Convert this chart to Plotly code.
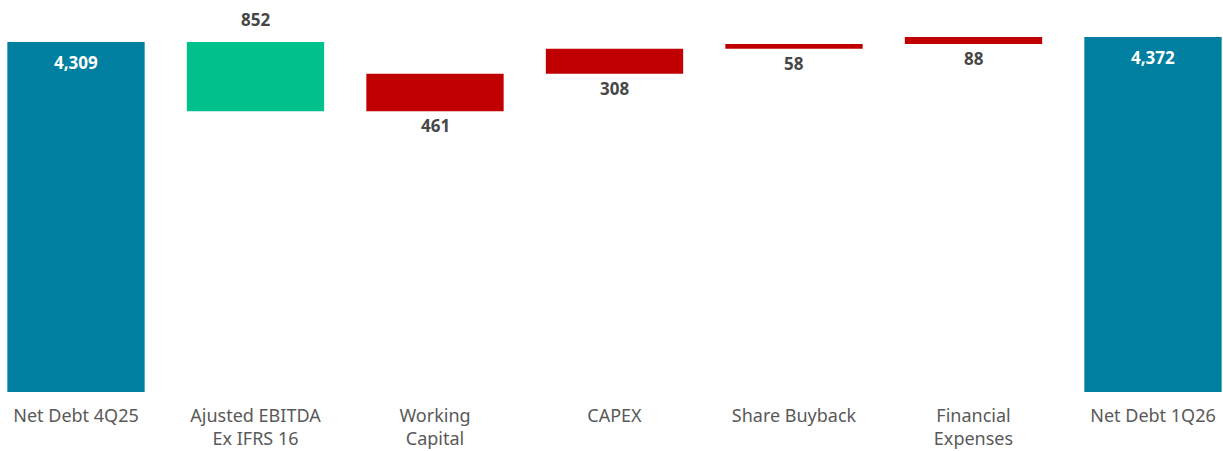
import plotly.graph_objects as go

categories = ["Net Debt 4Q25", "Ajusted EBITDA<br>Ex IFRS 16", "Working<br>Capital", "CAPEX",
              "Share Buyback", "Financial<br>Expenses", "Net Debt 1Q26"]
measures = ["absolute", "relative", "relative", "relative", "relative", "relative", "total"]
values = [4309, -852, 461, 308, 58, 88, 4372]
labels = ["4,309", "852", "461", "308", "58", "88", "4,372"]

TEAL = "#007FA0"
GREEN = "#00C08B"
RED = "#C00000"
FONT = "Noto Sans"

xs = list(range(len(categories)))

fig = go.Figure(go.Waterfall(
    x=xs,
    y=[v if m != "total" else 0 for v, m in zip(values, measures)],
    measure=measures,
    increasing=dict(marker=dict(color=RED)),
    decreasing=dict(marker=dict(color=GREEN)),
    totals=dict(marker=dict(color=TEAL)),
    connector=dict(visible=False),
    textposition="none",
    hoverinfo="skip",
))

annotations = []
running = 0
for i, (m, v, lab) in enumerate(zip(measures, values, labels)):
    if m == "absolute":
        running = v
        annotations.append(dict(x=i, y=running, text=f"<b>{lab}</b>", yanchor="top", yshift=-7,
                                font=dict(color="white", size=17, family=FONT)))
    elif m == "total":
        annotations.append(dict(x=i, y=running, text=f"<b>{lab}</b>", yanchor="top", yshift=-7,
                                font=dict(color="white", size=17, family=FONT)))
    else:
        start = running
        running += v
        if v < 0:
            annotations.append(dict(x=i, y=start, text=f"<b>{lab}</b>", yanchor="bottom", yshift=9,
                                    font=dict(color="#474747", size=17, family=FONT)))
        else:
            annotations.append(dict(x=i, y=start, text=f"<b>{lab}</b>", yanchor="top", yshift=-1,
                                    font=dict(color="#474747", size=17, family=FONT)))
for a in annotations:
    a.update(showarrow=False, xref="x", yref="y")

fig.update_layout(
    width=1223, height=451,
    margin=dict(l=0, r=0, t=0, b=59),
    paper_bgcolor="white", plot_bgcolor="white",
    waterfallgap=0.235,
    showlegend=False,
    annotations=annotations,
    xaxis=dict(range=[-0.4234, 6.39], tickmode="array", tickvals=xs, ticktext=categories,
               showgrid=False, zeroline=False, showline=False, ticks="",
               tickfont=dict(family=FONT, size=18, color="#595959"), ticklabelstandoff=11),
    yaxis=dict(range=[0, 4826], visible=False, showgrid=False, zeroline=False),
)

fig.write_html("out.html")
